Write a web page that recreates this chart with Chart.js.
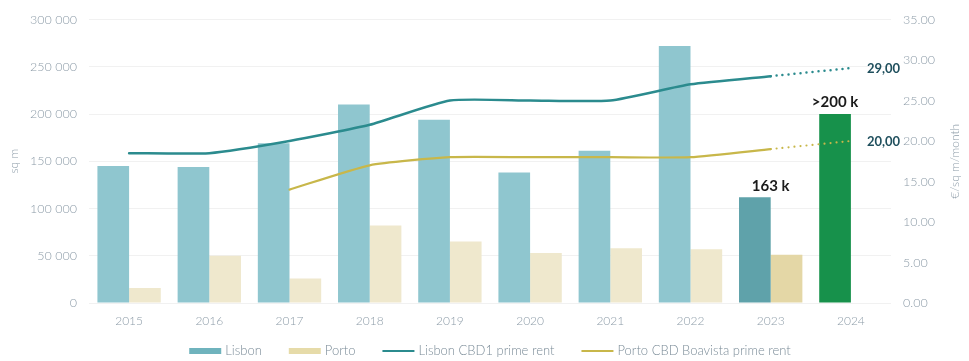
<!DOCTYPE html>
<html>
<head>
<meta charset="utf-8">
<script src="https://cdn.jsdelivr.net/npm/chart.js@4/dist/chart.umd.min.js"></script>
<style>
  html, body { margin: 0; padding: 0; background: #ffffff; }
  #wrap { width: 969px; height: 361px; position: relative; }
</style>
</head>
<body>
<div id="wrap"><canvas id="chart"></canvas></div>
<script>
// Office take-up (sq m) and prime rents (€/sq m/month)
const years = ['2015', '2016', '2017', '2018', '2019', '2020', '2021', '2022', '2023', '2024'];
const lisbonTakeUp = [145000, 144000, 169000, 210000, 194000, 138000, 161000, 272000, 112000, 200000];
const portoTakeUp = [16000, 50000, 26000, 82000, 65000, 53000, 58000, 57000, 51000, null];
const lisbonPrimeRent = [18.5, 18.5, 20, 22, 25, 25, 25, 27, 28, 29];
const portoPrimeRent = [null, null, 14, 17, 18, 18, 18, 18, 19, 20];
const takeUpTicks = [0, 50000, 100000, 150000, 200000, 250000, 300000];
const rentTicks = [0, 5, 10, 15, 20, 25, 30, 35];

const currentYear = 8;   // 2023: latest full year
const forecastYear = 9;  // 2024: projection

const TICK_COLOR = '#8d9ca8';
const FONT = 'Lato, "Open Sans", sans-serif';

const lisbonColors = years.map((y, i) => i === forecastYear ? '#17914b' : (i === currentYear ? '#5fa2aa' : '#8fc6cf'));
const portoColors = years.map((y, i) => i === currentYear ? '#e4d7a6' : '#efe8cd');

const fmtThousands = v => String(v).replace(/\B(?=(\d{3})+(?!\d))/g, ' ');
const dottedFromCurrent = ctx => ctx.p0DataIndex >= currentYear ? [0, 6] : undefined;

// Value labels above the 2023 and 2024 bars, and end labels on the rent lines
const annotations = {
  id: 'annotations',
  afterDatasetsDraw(chart) {
    const ctx = chart.ctx;
    const lis = chart.getDatasetMeta(0);
    const x = chart.scales.x;
    ctx.save();
    ctx.fillStyle = '#1b1b1b';
    ctx.font = 'bold 15px ' + FONT;
    ctx.textAlign = 'center';
    ctx.textBaseline = 'bottom';
    const total23 = (lisbonTakeUp[currentYear] + portoTakeUp[currentYear]) / 1000;
    const bar23 = lis.data[currentYear];
    ctx.fillText(total23 + ' k', x.getPixelForValue(currentYear), bar23.y - 4);
    const bar24 = lis.data[forecastYear];
    ctx.fillText('>' + (lisbonTakeUp[forecastYear] / 1000) + ' k', bar24.x, bar24.y - 4);

    ctx.fillStyle = '#1f4f5d';
    ctx.font = 'bold 13px ' + FONT;
    ctx.textAlign = 'left';
    ctx.textBaseline = 'middle';
    [[2, lisbonPrimeRent], [3, portoPrimeRent]].forEach(([di, arr]) => {
      const p = chart.getDatasetMeta(di).data[forecastYear];
      ctx.fillText(arr[forecastYear].toFixed(2).replace('.', ','), p.x + 16, p.y + 1);
    });
    ctx.restore();
  }
};

// Axis titles (both read bottom to top) and the legend row
const frame = {
  id: 'frame',
  afterDraw(chart) {
    const ctx = chart.ctx;
    const area = chart.chartArea;
    const midY = (area.top + area.bottom) / 2;
    ctx.save();
    ctx.fillStyle = TICK_COLOR;
    ctx.font = '300 12px ' + FONT;
    ctx.textAlign = 'center';
    ctx.textBaseline = 'middle';
    [[14, 'sq m'], [955, '€/sq m/month']].forEach(([tx, t]) => {
      ctx.save();
      ctx.translate(tx, midY);
      ctx.rotate(-Math.PI / 2);
      ctx.fillText(t, 0, 0);
      ctx.restore();
    });

    const items = chart.data.datasets.map(ds => ({
      text: ds.label,
      kind: ds.type === 'line' ? 'line' : 'box',
      color: ds.legendColor
    }));
    ctx.font = '300 13px ' + FONT;
    const boxW = 32, textGap = 4, itemGap = 27;
    const widths = items.map(it => boxW + textGap + ctx.measureText(it.text).width);
    const total = widths.reduce((a, b) => a + b, 0) + itemGap * (items.length - 1);
    let lx = (area.left + area.right) / 2 - total / 2;
    const ly = 351;
    items.forEach((it, i) => {
      if (it.kind === 'box') {
        ctx.fillStyle = it.color;
        ctx.fillRect(lx, ly - 3, boxW, 6);
      } else {
        ctx.strokeStyle = it.color;
        ctx.lineWidth = 2;
        ctx.beginPath();
        ctx.moveTo(lx, ly);
        ctx.lineTo(lx + boxW, ly);
        ctx.stroke();
      }
      ctx.fillStyle = '#7b8c98';
      ctx.textAlign = 'left';
      ctx.fillText(it.text, lx + boxW + textGap, ly);
      lx += widths[i] + itemGap;
    });
    ctx.restore();
  }
};

new Chart(document.getElementById('chart'), {
  data: {
    labels: years,
    datasets: [
      {
        type: 'bar', label: 'Lisbon', data: lisbonTakeUp, yAxisID: 'y',
        backgroundColor: lisbonColors, legendColor: '#6fb3bd', order: 2,
        categoryPercentage: 0.79, barPercentage: 1.0
      },
      {
        type: 'bar', label: 'Porto', data: portoTakeUp, yAxisID: 'y',
        backgroundColor: portoColors, legendColor: '#e6dba9', order: 2,
        categoryPercentage: 0.79, barPercentage: 1.0
      },
      {
        type: 'line', label: 'Lisbon CBD1 prime rent', data: lisbonPrimeRent, yAxisID: 'y1',
        borderColor: '#2b8b8e', legendColor: '#2b8b8e', borderWidth: 2.5, pointRadius: 0,
        tension: 0.18, borderCapStyle: 'round', order: 1,
        segment: { borderDash: dottedFromCurrent }
      },
      {
        type: 'line', label: 'Porto CBD Boavista prime rent', data: portoPrimeRent, yAxisID: 'y1',
        borderColor: '#c8b74a', legendColor: '#c8b74a', borderWidth: 2.2, pointRadius: 0,
        tension: 0.18, borderCapStyle: 'round', order: 1,
        segment: { borderDash: dottedFromCurrent }
      }
    ]
  },
  options: {
    responsive: true,
    maintainAspectRatio: false,
    animation: false,
    layout: { padding: { top: 19, left: 0, right: 0, bottom: 0 } },
    plugins: { legend: { display: false }, tooltip: { enabled: false } },
    scales: {
      x: {
        grid: { display: false, drawTicks: false },
        border: { display: false },
        ticks: { color: TICK_COLOR, font: { family: FONT, size: 12, weight: 300 }, padding: 11, maxRotation: 0 },
        afterFit(s) { s.height = 58; }
      },
      y: {
        position: 'left', min: 0, max: 300000,
        afterBuildTicks(s) { s.ticks = takeUpTicks.map(v => ({ value: v })); },
        grid: { color: '#f1f1f1', drawTicks: false, lineWidth: 1 },
        border: { display: false },
        ticks: { color: TICK_COLOR, font: { family: FONT, size: 12.5, weight: 300 }, padding: 12, callback: v => fmtThousands(v) },
        afterFit(s) { s.width = 89; }
      },
      y1: {
        position: 'right', min: 0, max: 35,
        afterBuildTicks(s) { s.ticks = rentTicks.map(v => ({ value: v })); },
        grid: { display: false, drawTicks: false },
        border: { display: false },
        ticks: { color: TICK_COLOR, font: { family: FONT, size: 12.5, weight: 300 }, padding: 12, callback: v => v.toFixed(2) },
        afterFit(s) { s.width = 78; }
      }
    }
  },
  plugins: [annotations, frame]
});
</script>
</body>
</html>
